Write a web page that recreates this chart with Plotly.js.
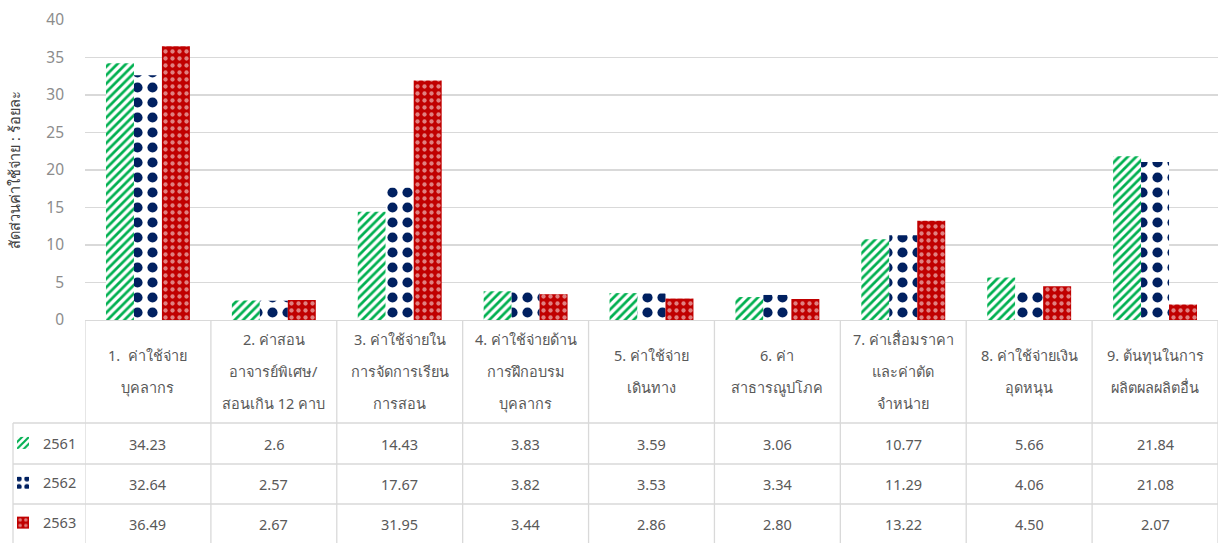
<!DOCTYPE html>
<html>
<head>
<meta charset="utf-8">
<script src="https://cdn.plot.ly/plotly-3.0.1.min.js"></script>
<style>html,body{margin:0;padding:0;background:#fff}#chart{width:1218px;height:543px}</style>
</head>
<body>
<div id="chart"></div>
<script>
const categories = [
  "1.  ค่าใช้จ่าย<br>บุคลากร",
  "2. ค่าสอน<br>อาจารย์พิเศษ/<br>สอนเกิน 12 คาบ",
  "3. ค่าใช้จ่ายใน<br>การจัดการเรียน<br>การสอน",
  "4. ค่าใช้จ่ายด้าน<br>การฝึกอบรม<br>บุคลากร",
  "5. ค่าใช้จ่าย<br>เดินทาง",
  "6. ค่า<br>สาธารณูปโภค",
  "7. ค่าเสื่อมราคา<br>และค่าตัด<br>จำหน่าย",
  "8. ค่าใช้จ่ายเงิน<br>อุดหนุน",
  "9. ต้นทุนในการ<br>ผลิตผลผลิตอื่น"
];
const seriesNames = ["2561", "2562", "2563"];
const values2561 = ["34.23", "2.6", "14.43", "3.83", "3.59", "3.06", "10.77", "5.66", "21.84"];
const values2562 = ["32.64", "2.57", "17.67", "3.82", "3.53", "3.34", "11.29", "4.06", "21.08"];
const values2563 = ["36.49", "2.67", "31.95", "3.44", "2.86", "2.80", "13.22", "4.50", "2.07"];
const yTicks = [0, 5, 10, 15, 20, 25, 30, 35, 40];

const FONT = "Noto Sans, Liberation Sans, sans-serif";
const TXT = "#595959";
const GRID = "#d9d9d9";
const PLOT_T = 20, PLOT_B = 320, H = 543;
const ph = PLOT_B - PLOT_T;
const py = p => (PLOT_B - p) / ph;           // pixel y -> paper y
const xIdx = categories.map((_, i) => i);

const allSeries = [values2561, values2562, values2563];
const styles = [
  {color: "#00B050", pattern: {shape: "/", fgcolor: "#00B050", bgcolor: "#ffffff", size: 6, solidity: 0.45, fillmode: "replace"}},
  {color: "#002060", pattern: {shape: ".", fgcolor: "#002060", bgcolor: "#ffffff", size: 15, solidity: 0.36, fillmode: "replace"}},
  {color: "#C00000", pattern: {shape: ".", fgcolor: "#ffffff", bgcolor: "#C00000", size: 7, solidity: 0.3, fillmode: "overlay"}}
];

const traces = allSeries.map((vals, s) => ({
  type: "bar",
  name: seriesNames[s],
  x: xIdx,
  y: vals.map(Number),
  marker: {color: styles[s].color, pattern: styles[s].pattern, line: {width: 0}},
  legendgroup: "g" + s,
  hoverinfo: "y"
}));

const annotations = [];
const shapes = [];

// header cell labels (one annotation per line so line spacing matches)
const LINE = 32, HEAD_C = 371;
categories.forEach((c, i) => {
  const lines = c.split("<br>");
  lines.forEach((ln, k) => {
    const yp = HEAD_C + (k - (lines.length - 1) / 2) * LINE;
    annotations.push({xref: "x", yref: "paper", x: i, y: py(yp), text: ln, showarrow: false,
      font: {family: FONT, size: 14.5, color: TXT}, xanchor: "center", yanchor: "middle"});
  });
});

// data cells
const rowTop = [423, 464, 504];
const rowBot = [464, 504, 543];
allSeries.forEach((vals, s) => {
  const yc = (rowTop[s] + rowBot[s]) / 2;
  vals.forEach((v, i) => {
    annotations.push({xref: "x", yref: "paper", x: i, y: py(yc), text: v, showarrow: false,
      font: {family: FONT, size: 14.5, color: TXT}, xanchor: "center", yanchor: "middle"});
  });
});

// table grid
const leftPx = 13;
const xPaper = p => (p - 85) / (1218 - 85);
for (let i = 0; i <= categories.length; i++) {
  shapes.push({type: "line", xref: "x", yref: "paper", x0: i - 0.5, x1: i - 0.5, y0: py(PLOT_B), y1: py(H),
    line: {color: GRID, width: 1.3}});
}
shapes.push({type: "line", xref: "paper", yref: "paper", x0: xPaper(leftPx), x1: xPaper(leftPx), y0: py(423), y1: py(H), line: {color: GRID, width: 1.3}});
[423, 464, 504].forEach(r => {
  shapes.push({type: "line", xref: "paper", yref: "paper", x0: xPaper(leftPx), x1: 1.01, y0: py(r), y1: py(r), line: {color: GRID, width: 1.3}});
});

const layout = {
  width: 1218, height: 543,
  margin: {l: 85, r: 0, t: PLOT_T, b: H - PLOT_B, pad: 0, autoexpand: false},
  paper_bgcolor: "#ffffff", plot_bgcolor: "#ffffff",
  font: {family: FONT, color: TXT},
  barmode: "group", bargap: 1 / 3, bargroupgap: 0,
  showlegend: true,
  legend: {x: xPaper(3), xanchor: "left", y: py(427), yanchor: "top", orientation: "v",
    tracegroupgap: 18, font: {family: FONT, size: 14.5, color: TXT}, bgcolor: "rgba(0,0,0,0)",
    itemwidth: 30, traceorder: "grouped"},
  xaxis: {type: "linear", range: [-0.5, categories.length - 0.5], showticklabels: false, showgrid: false,
    zeroline: false, showline: true, linecolor: GRID, linewidth: 1.3, ticks: "", fixedrange: true},
  yaxis: {range: [0, 40], tickvals: yTicks, ticktext: yTicks.map(String), showgrid: true, gridcolor: GRID, gridwidth: 1.3,
    zeroline: false, showline: false, ticks: "", ticklabelstandoff: 20,
    tickfont: {family: FONT, size: 15.5, color: "#8c8c8c"},
    title: {text: "สัดส่วนค่าใช้จ่าย : ร้อยละ", standoff: 22, font: {family: FONT, size: 14.5, color: "#404040"}},
    fixedrange: true},
  annotations: annotations,
  shapes: shapes
};

Plotly.newPlot("chart", traces, layout, {displayModeBar: false, staticPlot: true});
</script>
</body>
</html>
